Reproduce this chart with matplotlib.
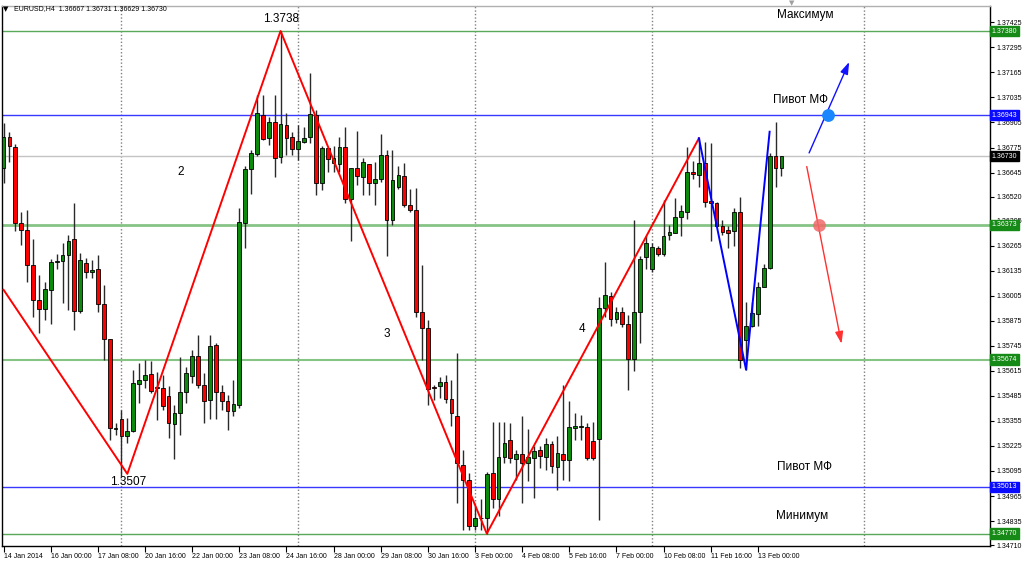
import matplotlib.pyplot as plt
from matplotlib import font_manager
import numpy as np

# EURUSD H4, 14 Jan 2014 16:00 .. 13 Feb 2014 16:00 (133 bars)
opens = [
    1.36668, 1.36832, 1.36780, 1.36382, 1.36347, 1.36166, 1.35984, 1.35936, 1.36036, 1.36180,
    1.36187, 1.36218, 1.36300, 1.35928, 1.36175, 1.36131, 1.36143, 1.35962, 1.35781, 1.35315,
    1.35365, 1.35275, 1.35301, 1.35548, 1.35569, 1.35600, 1.35527, 1.35526, 1.35482, 1.35341,
    1.35396, 1.35503, 1.35590, 1.35694, 1.35543, 1.35465, 1.35751, 1.35503, 1.35456, 1.35404,
    1.35439, 1.36385, 1.36663, 1.36742, 1.36944, 1.36827, 1.36910, 1.36725, 1.36893, 1.36829,
    1.36768, 1.36806, 1.36829, 1.36944, 1.36590, 1.36771, 1.36694, 1.36690, 1.36776, 1.36507,
    1.36668, 1.36624, 1.36688, 1.36593, 1.36612, 1.36737, 1.36399, 1.36571, 1.36628, 1.36477,
    1.36451, 1.35920, 1.35840, 1.35531, 1.35534, 1.35557, 1.35469, 1.35382, 1.35128, 1.35050,
    1.34807, 1.34851, 1.34851, 1.35085, 1.34950, 1.35168, 1.35257, 1.35157, 1.35185, 1.35137,
    1.35162, 1.35206, 1.35168, 1.35237, 1.35116, 1.35185, 1.35150, 1.35320, 1.35326, 1.35323,
    1.35253, 1.35261, 1.35941, 1.36006, 1.35884, 1.35923, 1.35860, 1.35677, 1.35923, 1.36205,
    1.36143, 1.36253, 1.36221, 1.36322, 1.36333, 1.36413, 1.36442, 1.36650, 1.36633, 1.36697,
    1.36498, 1.36489, 1.36368, 1.36347, 1.36342, 1.36442, 1.35773, 1.35849, 1.35911, 1.36053,
    1.36148, 1.36731, 1.36667,
]
highs = [
    1.36903, 1.36857, 1.36794, 1.36441, 1.36451, 1.36301, 1.36114, 1.36079, 1.36196, 1.36223,
    1.36279, 1.36322, 1.36486, 1.36227, 1.36201, 1.36192, 1.36216, 1.36062, 1.35782, 1.35344,
    1.35413, 1.35370, 1.35621, 1.35657, 1.35673, 1.35664, 1.35607, 1.35595, 1.35534, 1.35439,
    1.35687, 1.35635, 1.35725, 1.35803, 1.35605, 1.35803, 1.35760, 1.35543, 1.35491, 1.35565,
    1.36461, 1.36679, 1.36763, 1.37048, 1.37048, 1.36935, 1.37048, 1.37380, 1.36953, 1.36857,
    1.36893, 1.36883, 1.37161, 1.36970, 1.36783, 1.36775, 1.36783, 1.36828, 1.36883, 1.36671,
    1.36863, 1.36721, 1.36690, 1.36702, 1.36846, 1.36763, 1.36763, 1.36679, 1.36695, 1.36558,
    1.36565, 1.36166, 1.35880, 1.35543, 1.35581, 1.35595, 1.35569, 1.35709, 1.35206, 1.35086,
    1.34911, 1.34951, 1.35091, 1.35352, 1.35352, 1.35347, 1.35346, 1.35206, 1.35378, 1.35313,
    1.35223, 1.35223, 1.35266, 1.35249, 1.35278, 1.35543, 1.35456, 1.35396, 1.35387, 1.35344,
    1.35352, 1.36001, 1.36183, 1.36027, 1.35949, 1.35949, 1.35906, 1.36399, 1.36209, 1.36313,
    1.36278, 1.36265, 1.36503, 1.36373, 1.36512, 1.36477, 1.36780, 1.36705, 1.36823, 1.36806,
    1.36797, 1.36494, 1.36399, 1.36365, 1.36460, 1.36520, 1.35975, 1.35975, 1.36074, 1.36171,
    1.36748, 1.36909, 1.36731,
]
lows = [
    1.36592, 1.36702, 1.36344, 1.36270, 1.36079, 1.35897, 1.35813, 1.35880, 1.35858, 1.36143,
    1.35967, 1.35932, 1.35828, 1.35915, 1.36097, 1.36098, 1.35923, 1.35673, 1.35257, 1.35280,
    1.35071, 1.35240, 1.35296, 1.35449, 1.35528, 1.35500, 1.35361, 1.35413, 1.35266, 1.35158,
    1.35283, 1.35448, 1.35552, 1.35526, 1.35344, 1.35365, 1.35365, 1.35413, 1.35309, 1.35378,
    1.35423, 1.36254, 1.36534, 1.36731, 1.36815, 1.36788, 1.36624, 1.36694, 1.36737, 1.36737,
    1.36711, 1.36797, 1.36797, 1.36529, 1.36555, 1.36650, 1.36650, 1.36650, 1.36486, 1.36287,
    1.36581, 1.36529, 1.36529, 1.36477, 1.36598, 1.36213, 1.36370, 1.36560, 1.36468, 1.36442,
    1.35897, 1.35673, 1.35439, 1.35465, 1.35474, 1.35448, 1.35327, 1.34931, 1.34790, 1.34790,
    1.34790, 1.34790, 1.34770, 1.34903, 1.34860, 1.35136, 1.35136, 1.35050, 1.34929, 1.35041,
    1.34955, 1.35111, 1.35102, 1.35085, 1.34998, 1.35050, 1.35041, 1.35257, 1.35257, 1.35154,
    1.35154, 1.34842, 1.35897, 1.35849, 1.35863, 1.35845, 1.35517, 1.35612, 1.35759, 1.36143,
    1.36131, 1.36209, 1.36209, 1.36296, 1.36330, 1.36313, 1.36404, 1.36610, 1.36568, 1.36468,
    1.36287, 1.36365, 1.36322, 1.36254, 1.36264, 1.35630, 1.35621, 1.35845, 1.35849, 1.36050,
    1.36143, 1.36572, 1.36629,
]
closes = [
    1.36832, 1.36785, 1.36382, 1.36347, 1.36166, 1.35984, 1.35936, 1.36041, 1.36180, 1.36187,
    1.36218, 1.36291, 1.35928, 1.36192, 1.36131, 1.36140, 1.35962, 1.35781, 1.35318, 1.35318,
    1.35275, 1.35301, 1.35552, 1.35569, 1.35595, 1.35508, 1.35525, 1.35430, 1.35344, 1.35396,
    1.35503, 1.35604, 1.35694, 1.35543, 1.35460, 1.35746, 1.35503, 1.35456, 1.35404, 1.35444,
    1.36389, 1.36663, 1.36747, 1.36953, 1.36820, 1.36910, 1.36722, 1.36896, 1.36827, 1.36766,
    1.36809, 1.36827, 1.36949, 1.36590, 1.36771, 1.36716, 1.36720, 1.36776, 1.36507, 1.36668,
    1.36628, 1.36699, 1.36593, 1.36612, 1.36737, 1.36399, 1.36607, 1.36633, 1.36477, 1.36448,
    1.35923, 1.35840, 1.35521, 1.35524, 1.35557, 1.35469, 1.35396, 1.35137, 1.35050, 1.34811,
    1.34851, 1.34853, 1.35081, 1.34950, 1.35168, 1.35240, 1.35162, 1.35185, 1.35137, 1.35168,
    1.35200, 1.35175, 1.35237, 1.35119, 1.35189, 1.35150, 1.35326, 1.35331, 1.35327, 1.35162,
    1.35162, 1.35941, 1.36010, 1.35884, 1.35923, 1.35860, 1.35677, 1.35923, 1.36196, 1.36278,
    1.36258, 1.36221, 1.36316, 1.36335, 1.36416, 1.36446, 1.36647, 1.36636, 1.36697, 1.36494,
    1.36489, 1.36368, 1.36338, 1.36330, 1.36442, 1.35669, 1.35849, 1.35918, 1.36053, 1.36148,
    1.36731, 1.36667, 1.36730,
]

time_ticks = [0, 8, 16, 24, 32, 40, 48, 56, 64, 72, 80, 88, 96, 104, 112, 120, 128]
time_labels = ["14 Jan 2014", "16 Jan 00:00", "17 Jan 08:00", "20 Jan 16:00", "22 Jan 00:00",
               "23 Jan 08:00", "24 Jan 16:00", "28 Jan 00:00", "29 Jan 08:00", "30 Jan 16:00",
               "3 Feb 00:00", "4 Feb 08:00", "5 Feb 16:00", "7 Feb 00:00", "10 Feb 08:00",
               "11 Feb 16:00", "13 Feb 00:00"]
price_ticks = [1.37425, 1.37295, 1.37165, 1.37035, 1.36905, 1.36775, 1.36645, 1.36520, 1.36395,
               1.36265, 1.36135, 1.36005, 1.35875, 1.35745, 1.35615, 1.35485, 1.35355, 1.35225,
               1.35095, 1.34965, 1.34835, 1.34710]
week_separators = [20, 50, 80, 110, 146]

# zigzag vertices (bar, price)
zz_red_x = [0, 21, 47, 82, 118]
zz_red_y = [1.36036, 1.35080, 1.37380, 1.34770, 1.36823]
zz_blue_x = [118, 126, 130]
zz_blue_y = [1.36823, 1.35621, 1.36857]

# horizontal levels: price, line colour, width, label box colour
levels = [
    (1.37380, "#5aa95a", 1.0, "#168a16"),
    (1.36943, "#3838ff", 1.0, "#0a0aff"),
    (1.36730, "#c4c4c4", 1.0, "#000000"),
    (1.36373, "#86c486", 2.0, "#168a16"),
    (1.35674, "#86c486", 1.5, "#168a16"),
    (1.35013, "#3838ff", 1.0, "#0a0aff"),
    (1.34770, "#5aa95a", 1.0, "#168a16"),
]

# small terminal-like font: use a narrow face when there is one
names = {f.name for f in font_manager.fontManager.ttflist}
if "Liberation Sans Narrow" in names:
    small, fs = ["Liberation Sans Narrow", "DejaVu Sans"], 6.0
else:
    small, fs = ["Liberation Sans", "DejaVu Sans"], 5.0

plt.rcParams["font.family"] = ["Liberation Sans", "DejaVu Sans"]

fig = plt.figure(figsize=(10.24, 5.62), dpi=100)
ax = fig.add_axes([2 / 1024, 1 - 545.5 / 562, 988 / 1024, 539.5 / 562])
ax.set_xlim(-0.27, 167.4)
ax.set_ylim(1.34708, 1.37510)

for s in ax.spines.values():
    s.set_linewidth(1.0)
    s.set_color("#000000")
ax.spines["top"].set_color("#b0b0b0")

for xs in week_separators:
    ax.axvline(xs, color="#808080", lw=1.0, ls=(0, (1, 1.5)), zorder=1)

for price, lc, lw, bc in levels:
    ax.axhline(price, color=lc, lw=lw, zorder=1)
    ax.text(1.0015, price, "%.5f" % price, transform=ax.get_yaxis_transform(),
            ha="left", va="center", fontsize=fs, color="white", family=small,
            bbox=dict(boxstyle="square,pad=0.25", fc=bc, ec=bc), clip_on=False, zorder=10)

x = np.arange(len(opens))
o = np.array(opens)
h = np.array(highs)
l = np.array(lows)
c = np.array(closes)
up = c >= o
ax.vlines(x, l, h, color="#2a2a2a", lw=1.0, zorder=2)
body = np.where(np.abs(c - o) < 0.00002, 0.00002, c - o)
ax.bar(x, body, bottom=o, width=0.64, color=np.where(up, "#0b8a0b", "#ff0000"),
       edgecolor="#000000", linewidth=0.6, zorder=3)

ax.plot(zz_red_x, zz_red_y, color="#ff0000", lw=1.4, zorder=4)
ax.plot(zz_blue_x, zz_blue_y, color="#0000ff", lw=1.4, zorder=4)

# forecast arrows
ax.annotate("", xy=(143.5, 1.37219), xytext=(136.7, 1.36747),
            arrowprops=dict(arrowstyle="-|>,head_length=0.6,head_width=0.2", color="#1010ff",
                            lw=1.0, mutation_scale=12, shrinkA=0, shrinkB=0), zorder=5)
ax.annotate("", xy=(142.2, 1.35756), xytext=(136.3, 1.36676),
            arrowprops=dict(arrowstyle="-|>,head_length=0.6,head_width=0.2", color="#ff3030",
                            lw=1.0, mutation_scale=12, shrinkA=0, shrinkB=0), zorder=5)
ax.scatter([139.9], [1.36943], s=85, color="#1a86ff", zorder=6, linewidths=0)
ax.scatter([138.3], [1.36373], s=85, color="#f06a6a", alpha=0.85, zorder=6, linewidths=0)

ax.text(47.1, 1.37442, "1.3738", ha="center", va="center", fontsize=8.5)
ax.text(21.1, 1.35039, "1.3507", ha="center", va="center", fontsize=8.5)
ax.text(30.1, 1.36648, "2", ha="center", va="center", fontsize=8.5)
ax.text(65.1, 1.35808, "3", ha="center", va="center", fontsize=8.5)
ax.text(98.2, 1.35834, "4", ha="center", va="center", fontsize=8.5)
ax.text(136.1, 1.37463, "Максимум", ha="center", va="center", fontsize=8.5)
ax.text(135.2, 1.37022, "Пивот МФ", ha="center", va="center", fontsize=8.5)
ax.text(136.0, 1.35117, "Пивот МФ", ha="center", va="center", fontsize=8.5)
ax.text(135.5, 1.34863, "Минимум", ha="center", va="center", fontsize=8.5)

ax.yaxis.tick_right()
ax.set_yticks(price_ticks)
ax.set_yticklabels(["%.5f" % p for p in price_ticks], fontsize=fs, family=small)
ax.tick_params(axis="y", direction="out", length=3, width=0.8, pad=2)
ax.set_xticks(time_ticks)
ax.set_xticklabels(time_labels, fontsize=fs, family=small)
for lab in ax.get_xticklabels():
    lab.set_ha("left")
ax.tick_params(axis="x", direction="out", length=4, width=0.8, pad=1.5)

fig.text(6 / 1024, 1 - 9 / 562, "▼", fontsize=5, va="center", ha="center", family="DejaVu Sans")
fig.text(14 / 1024, 1 - 9 / 562, "EURUSD,H4  1.36667 1.36731 1.36629 1.36730",
         fontsize=fs, va="center", ha="left", family=small)
fig.text(792 / 1024, 1 - 3 / 562, "▼", fontsize=5, va="center", ha="center",
         color="#a0a0a0", family="DejaVu Sans")

fig.savefig("out.png", dpi=100)
